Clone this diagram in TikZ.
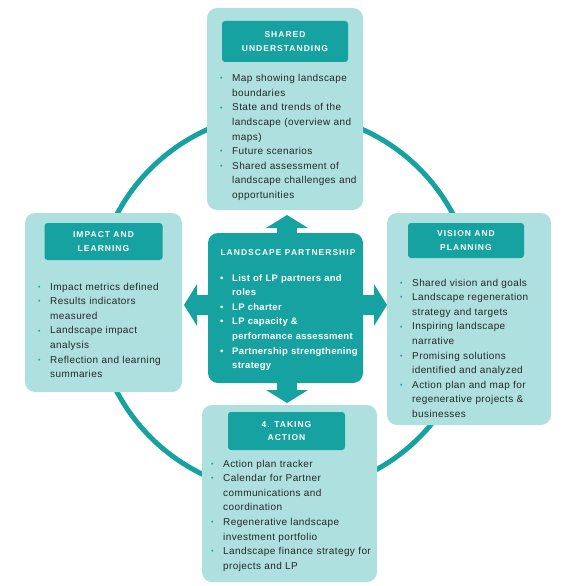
\documentclass[tikz,border=0pt]{standalone}
\usepackage{fontspec}
\setmainfont{Liberation Sans}
\newfontfamily\bodyfont[LetterSpace=4]{Liberation Sans}
\newfontfamily\headfont[LetterSpace=12]{Liberation Sans}
\newfontfamily\hubfont[LetterSpace=3]{Liberation Sans}
\usepackage{xcolor}
\definecolor{LandTeal}{RGB}{22,162,160}
\definecolor{LandMist}{RGB}{174,224,224}
\definecolor{LandInk}{RGB}{38,38,38}
\usepackage{tikz}
\usetikzlibrary{arrows.meta,positioning}

\newcommand\pitem[1]{\par\noindent\hangindent=12pt\hangafter=1%
  \makebox[12pt][l]{\raisebox{0.8pt}{\textcolor{LandTeal}{\fontsize{7}{7}\selectfont\textbullet}}}\rule{0pt}{7.5pt}#1\par}
\newcommand\hitem[1]{\par\noindent\hangindent=12pt\hangafter=1%
  \makebox[12pt][l]{\textbullet}\rule{0pt}{7.5pt}#1\par}

\begin{document}
\begin{tikzpicture}[x=1pt,y=-1pt,
    card/.style={fill=LandMist,rounded corners=10pt,inner sep=0pt,outer sep=0pt},
    head/.style={fill=LandTeal,rounded corners=3pt,text=white,align=center,inner sep=0pt,outer sep=0pt,font=\headfont\bfseries\fontsize{8.5}{13.3}\selectfont},
    body/.style={anchor=north west,inner sep=0pt,text width=170pt,text=LandInk,font=\bodyfont\fontsize{10}{14.6}\selectfont},
    hubtxt/.style={body,text=white,font=\hubfont\bfseries\fontsize{9.5}{14.6}\selectfont},
    ring/.style={draw=LandTeal,line width=5pt},
    fat/.style={LandTeal,line width=20pt,-{Triangle[width=42pt,length=13pt,line width=0pt]}},
  ]
    \useasboundingbox (0,0) rectangle (570,586);
    \coordinate (hub) at (287,305);
    \draw[ring] (285,303) circle[radius=190pt];

    % the four stages
    \node[card,minimum width=156pt,minimum height=202pt] (su) at (285,109) {};
    \node[card,minimum width=157pt,minimum height=179pt] (il) at (103.5,302.5) {};
    \node[card,minimum width=164pt,minimum height=212pt] (vp) at (469,319) {};
    \node[card,minimum width=175pt,minimum height=177pt] (ta) at (289.5,493.5) {};

    \node[head,minimum width=126pt,minimum height=41pt,below=13pt of su.north] (suh) {SHARED\\UNDERSTANDING};
    \node[head,minimum width=118pt,minimum height=37pt,below=10pt of il.north] (ilh) {IMPACT AND\\LEARNING};
    \node[head,minimum width=116pt,minimum height=35pt,below=10pt of vp.north,xshift=-3pt] (vph) {VISION AND\\PLANNING};
    \node[head,minimum width=117pt,minimum height=38pt,below=7pt of ta.north,xshift=-3pt] (tah) {4. TAKING\\ACTION};

    % hub arrows
    \draw[fat,shorten >=5pt] (hub) -- (hub |- su.south);
    \draw[fat,shorten >=2pt] (hub) -- (hub |- ta.north);
    \draw[fat,shorten >=2pt] (hub) -- (hub -| il.east);
    \draw[fat] (hub) -- (hub -| vp.west);
    \node[card,fill=LandTeal,minimum width=155pt,minimum height=150pt] (cp) at (285.5,308) {};
    \node[text=white,inner sep=0pt,font=\headfont\bfseries\fontsize{8.5}{10}\selectfont] (cph) at (288,252.3) {LANDSCAPE PARTNERSHIP};

    \node[body] (sut) at (220,66.8) {%
      \pitem{Map showing landscape\newline boundaries}
      \pitem{State and trends of the\newline landscape (overview and\newline maps)}
      \pitem{Future scenarios}
      \pitem{Shared assessment of\newline landscape challenges and\newline opportunities}};
    \node[body] (ilt) at (38,275.2) {%
      \pitem{Impact metrics defined}
      \pitem{Results indicators\newline measured}
      \pitem{Landscape impact\newline analysis}
      \pitem{Reflection and learning\newline summaries}};
    \node[body] (vpt) at (400,271.2) {%
      \pitem{Shared vision and goals}
      \pitem{Landscape regeneration\newline strategy and targets}
      \pitem{Inspiring landscape\newline narrative}
      \pitem{Promising solutions\newline identified and analyzed}
      \pitem{Action plan and map for\newline regenerative projects \&\newline businesses}};
    \node[body] (tat) at (211,452.2) {%
      \pitem{Action plan tracker}
      \pitem{Calendar for Partner\newline communications and\newline coordination}
      \pitem{Regenerative landscape\newline investment portfolio}
      \pitem{Landscape finance strategy for\newline projects and LP}};
    \node[hubtxt] (cpt) at (220,266.2) {%
      \hitem{List of LP partners and\newline roles}
      \hitem{LP charter}
      \hitem{LP capacity \&\newline performance assessment}
      \hitem{Partnership strengthening\newline strategy}};
  \end{tikzpicture}
\end{document}
